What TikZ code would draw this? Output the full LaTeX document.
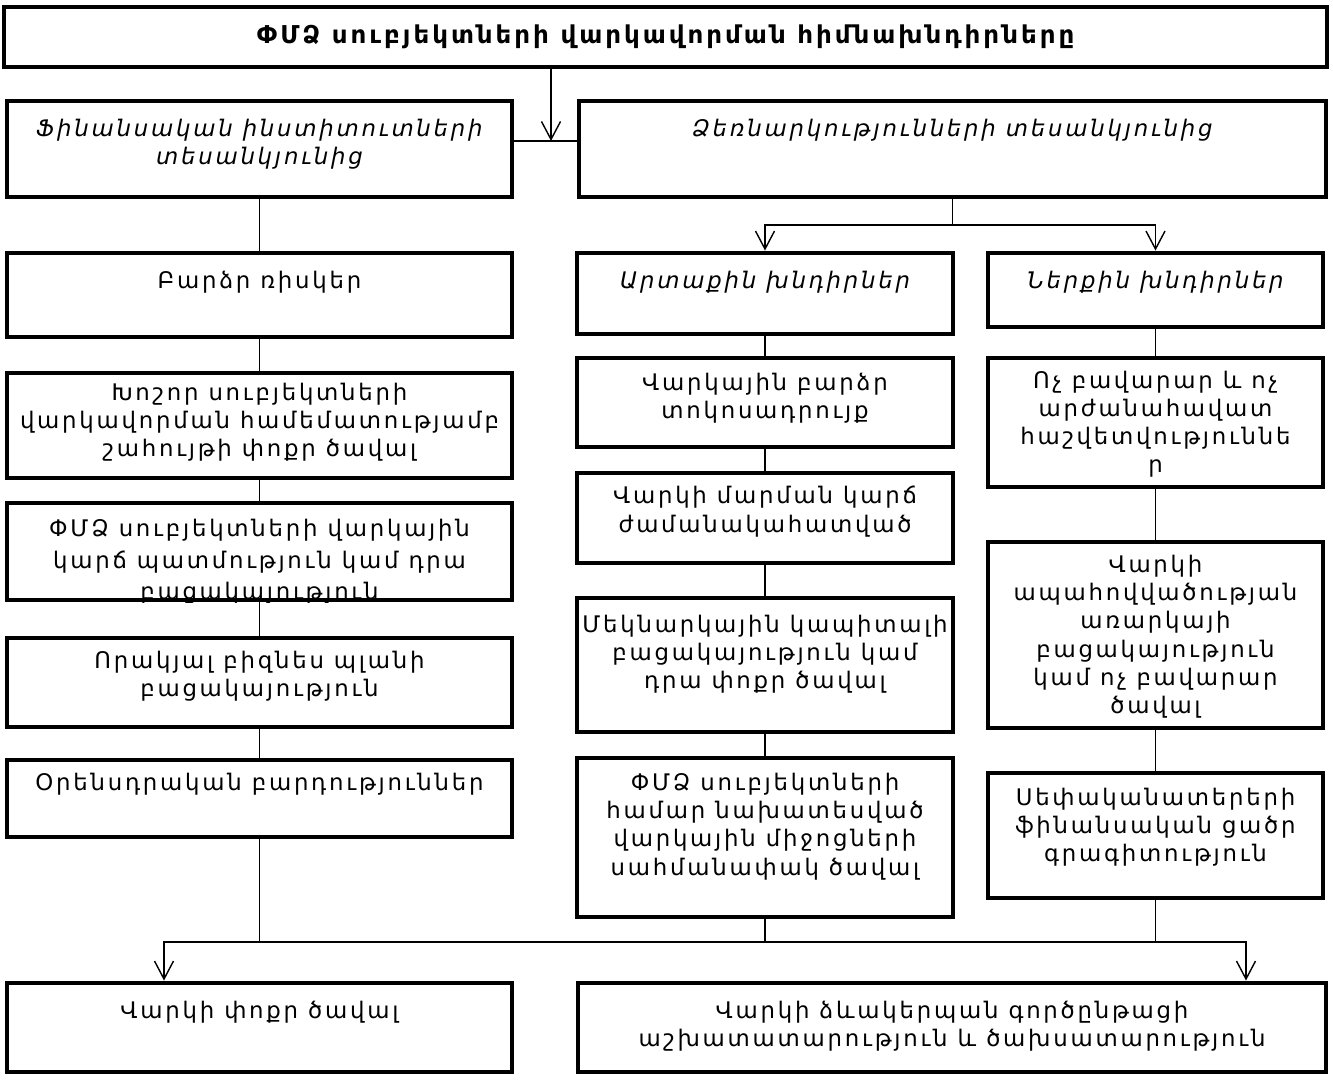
\documentclass[tikz,border=0pt]{standalone}
\usepackage{fontspec}
\setmainfont{DejaVu Sans}[LetterSpace=12]
\usetikzlibrary{positioning,arrows.meta}

\tikzset{
  box/.style={draw, line width=2.8pt},
  sz/.style 2 args={minimum width=#1*0.02cm, minimum height=#2*0.02cm},
  txt/.style={align=center, inner sep=0pt, font=\fontsize{13}{16}\selectfont},
  ital/.style={font=\fontsize{13}{16}\selectfont\itshape},
  conn/.style={line width=0.8pt},
  arr/.style={conn, -{Straight Barb[length=3.6mm,width=3.8mm]}},
}

\begin{document}
\begin{tikzpicture}[x=0.02cm, y=-0.02cm]
  \useasboundingbox (0,0) rectangle (1333,1081);

  % title and the two points of view
  \node[box, txt, sz={1323}{60}, font=\fontsize{14}{16}\selectfont\bfseries] (title) at (665.5,37)
    {ՓՄՁ սուբյեկտների վարկավորման հիմնախնդիրները};
  \node[box, sz={505}{96}] (finh) at (259.5,149) {};
  \node[txt, ital, below=0.4cm of finh.north] (finh-t) {Ֆինանսական ինստիտուտների\\տեսանկյունից};
  \node[box, sz={747}{96}] (ent) at (952.5,149) {};
  \node[txt, ital, below=0.4cm of ent.north] (ent-t) {Ձեռնարկությունների տեսանկյունից};

  % left column
  \foreach \n/\y/\h/\d/\t in {
      risk/295/84/0.4cm/{Բարձր ռիսկեր},
      big/425.5/105/0.25cm/{Խոշոր սուբյեկտների\\վարկավորման համեմատությամբ\\շահույթի փոքր ծավալ},
      hist/551.5/97/0.37cm/{ՓՄՁ սուբյեկտների վարկային\\[2pt]կարճ պատմություն կամ դրա\\[2pt]բացակայություն},
      plan/682.5/89/0.3cm/{Որակյալ բիզնես պլանի\\բացակայություն},
      law/798.5/77/0.31cm/{Օրենսդրական բարդություններ}} {
    \node[box, sz={505}{\h}] (\n) at (259.5,\y) {};
    \begin{scope}
      \clip (\n.north west) rectangle (\n.south east);
      \node[txt, below=\d of \n.north] (\n-t) {\t};
    \end{scope}
  }

  % middle column
  \foreach \n/\y/\h/\d/\t in {
      ext/293.5/81/0.4cm/{\itshape Արտաքին խնդիրներ},
      rate/402.5/89/0.35cm/{Վարկային բարձր\\տոկոսադրույք},
      term/518/90/0.31cm/{Վարկի մարման կարճ\\ժամանակահատված},
      cap/665/134/0.39cm/{Մեկնարկային կապիտալի\\բացակայություն կամ\\դրա փոքր ծավալ},
      fund/837.5/159/0.35cm/{ՓՄՁ սուբյեկտների\\համար նախատեսված\\վարկային միջոցների\\սահմանափակ ծավալ}} {
    \node[box, sz={376}{\h}] (\n) at (765,\y) {};
    \begin{scope}
      \clip (\n.north west) rectangle (\n.south east);
      \node[txt, below=\d of \n.north] (\n-t) {\t};
    \end{scope}
  }

  % right column
  \foreach \n/\y/\h/\d/\t in {
      int/290/74/0.4cm/{\itshape Ներքին խնդիրներ},
      rep/422.5/129/0.3cm/{Ոչ բավարար և ոչ\\արժանահավատ\\հաշվետվություննե\\ր},
      coll/635/186/0.31cm/{Վարկի\\ապահովվածության\\առարկայի\\բացակայություն\\կամ ոչ բավարար\\ծավալ},
      own/835.5/125/0.35cm/{Սեփականատերերի\\ֆինանսական ցածր\\գրագիտություն}} {
    \node[box, sz={335}{\h}] (\n) at (1155.5,\y) {};
    \begin{scope}
      \clip (\n.north west) rectangle (\n.south east);
      \node[txt, below=\d of \n.north] (\n-t) {\t};
    \end{scope}
  }

  % results
  \node[box, sz={505}{89}] (small) at (259.5,1027.5) {};
  \node[txt, below=0.4cm of small.north] (small-t) {Վարկի փոքր ծավալ};
  \node[box, sz={748}{89}] (cost) at (952,1027.5) {};
  \node[txt, below=0.4cm of cost.north] (cost-t) {Վարկի ձևակերպան գործընթացի\\աշխատատարություն և ծախսատարություն};

  % connectors
  \coordinate (hub) at (551,141);
  \draw[arr] (title.south -| hub) -- (hub);
  \draw[conn] (finh.east |- hub) -- (ent.west |- hub);
  \foreach \a/\b in {finh/risk, risk/big, big/hist, hist/plan, plan/law,
      ext/rate, rate/term, term/cap, cap/fund,
      int/rep, rep/coll, coll/own}
    \draw[conn] (\a) -- (\b);
  \coordinate (split) at (952.5,225);
  \draw[conn] (ent) -- (split);
  \draw[arr] (split) -| (ext);
  \draw[arr] (split) -| (int);
  \coordinate (busL) at (164,942);
  \coordinate (busR) at (1246,942);
  \draw[conn] (law) -- (law |- busL);
  \draw[conn] (fund) -- (fund |- busL);
  \draw[conn] (own) -- (own |- busL);
  \draw[arr] (law |- busL) -- (busL) -- (small.north -| busL);
  \draw[arr] (law |- busL) -- (busR) -- (cost.north -| busR);
\end{tikzpicture}
\end{document}
